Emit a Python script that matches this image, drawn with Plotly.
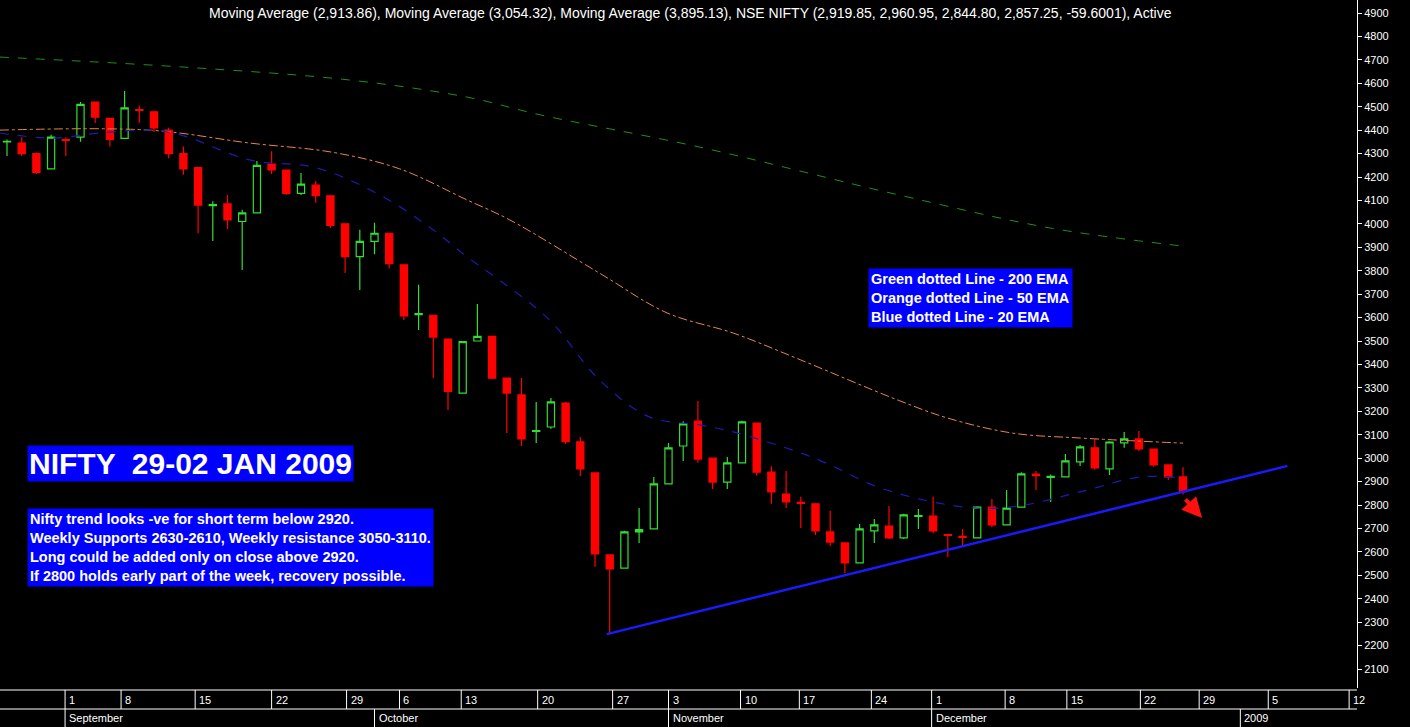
import plotly.graph_objects as go

# OHLC per trading day (index 0 = 26 Aug 2008)
opens = [4350, 4345, 4300, 4235, 4360, 4370, 4520, 4450, 4365, 4488, 4478, 4400, 4300, 4240, 4078, 4085,
         4010, 4047, 4255, 4230, 4130, 4165, 4120, 4000, 3860, 3925, 3960, 3825, 3613, 3610, 3508, 3278,
         3500, 3520, 3342, 3270, 3114, 3133, 3235, 3070, 2937, 2587, 2531, 2685, 2698, 2890, 3052, 3158,
         3000, 2898, 2980, 3150, 2940, 2847, 2811, 2805, 2685, 2638, 2553, 2690, 2710, 2660, 2751, 2753,
         2674, 2666, 2660, 2791, 2715, 2791, 2932, 2918, 2920, 2984, 3044, 2954, 3065, 3082, 3039, 2971,
         2919.85]
highs = [4360, 4370, 4305, 4380, 4370, 4520, 4520, 4450, 4567, 4505, 4478, 4410, 4330, 4240, 4097, 4123,
         4060, 4268, 4310, 4230, 4217, 4183, 4120, 4000, 3975, 4005, 3960, 3825, 3740, 3610, 3508, 3500,
         3658, 3520, 3342, 3342, 3240, 3257, 3240, 3090, 2937, 2587, 2690, 2787, 2920, 3065, 3158, 3244,
         3000, 3005, 3160, 3150, 2965, 2945, 2835, 2805, 2775, 2638, 2719, 2740, 2796, 2763, 2783, 2835,
         2674, 2698, 2795, 2826, 2864, 2940, 2945, 2930, 3018, 3056, 3082, 3072, 3112, 3116, 3039, 2971,
         2960.95]
lows = [4290, 4290, 4213, 4235, 4290, 4350, 4430, 4330, 4365, 4430, 4392, 4280, 4210, 3960, 3927, 3978,
        3803, 4047, 4213, 4123, 4123, 4090, 3982, 3790, 3718, 3870, 3810, 3590, 3547, 3342, 3206, 3278,
        3500, 3338, 3107, 3052, 3065, 3125, 3060, 2924, 2536, 2254, 2531, 2638, 2698, 2890, 2988, 2980,
        2868, 2868, 2980, 2925, 2805, 2787, 2702, 2672, 2625, 2510, 2550, 2638, 2655, 2655, 2698, 2680,
        2578, 2625, 2658, 2705, 2715, 2791, 2864, 2813, 2920, 2967, 2950, 2928, 3044, 3031, 2963, 2907,
        2844.80]
closes = [4352, 4300, 4220, 4370, 4356, 4510, 4455, 4360, 4495, 4484, 4410, 4300, 4235, 4080, 4082, 4017,
          4047, 4250, 4230, 4130, 4170, 4120, 3993, 3860, 3925, 3960, 3830, 3607, 3617, 3517, 3285, 3497,
          3520, 3342, 3278, 3082, 3118, 3240, 3070, 2954, 2591, 2527, 2685, 2695, 2890, 3044, 3146, 2996,
          2898, 2980, 3155, 2940, 2856, 2813, 2807, 2690, 2642, 2553, 2698, 2715, 2660, 2758, 2755, 2689,
          2670, 2662, 2791, 2715, 2787, 2933, 2925, 2922, 2988, 3048, 2958, 3069, 3082, 3039, 2971, 2920,
          2857.25]

# moving averages read at sample positions (trading-day index)
ema200_x = [-0.5, 11.8, 23.3, 31.3, 36.3, 47.1, 60.7, 71, 80]
ema200_y = [4712, 4670, 4614, 4541, 4465, 4328, 4123, 3982, 3905]
ema50_x = [-0.5, 9.7, 16.5, 22.2, 26.7, 31.3, 34.2, 40.3, 44.9, 49.4, 54.0, 60.6, 64.0, 68.4, 73.0, 80]
ema50_y = [4400, 4400, 4345, 4305, 4235, 4102, 4017, 3790, 3620, 3534, 3419, 3248, 3171, 3107, 3086, 3064]
ema20_x = [-0.5, 3.0, 6.3, 9.7, 11.8, 16.5, 21.1, 25.6, 29.0, 31.3, 33.5, 36.9, 40.3, 43.7, 47.1, 49.4,
           54.0, 56.0, 59.4, 65.0, 68.4, 73.0, 77.1, 79.8]
ema20_y = [4388, 4366, 4388, 4400, 4380, 4273, 4238, 4115, 3974, 3859, 3760, 3590, 3334, 3176, 3142, 3112,
           3022, 2971, 2873, 2792, 2792, 2856, 2920, 2916]

trend_x = [40.8, 87.1]
trend_y = [2249, 2967]

yticks = list(range(2100, 5000, 100))
day_pos = [-0.7, 3.95, 7.76, 12.8, 18.0, 23.1, 26.7, 30.9, 36.1, 41.2, 45.0, 49.9, 53.9, 58.8, 62.9,
           67.9, 72.1, 77.1, 81.1, 85.8, 91.3]
day_labels = ["25", "1", "8", "15", "22", "29", "6", "13", "20", "27", "3", "10", "17", "24", "1",
              "8", "15", "22", "29", "5", "12"]
month_pos = [3.95, 25.0, 45.0, 62.9, 83.9]
month_labels = ["September", "October", "November", "December", "2009"]

idx = list(range(len(opens)))

fig = go.Figure()
fig.add_trace(go.Scatter(x=ema200_x, y=ema200_y, mode="lines", line=dict(color="#1f8f1f", width=1, dash="dash"),
                         line_shape="spline", hoverinfo="skip"))
fig.add_trace(go.Scatter(x=ema50_x, y=ema50_y, mode="lines", line=dict(color="#e8864a", width=1, dash="dashdot"),
                         line_shape="spline", hoverinfo="skip"))
fig.add_trace(go.Scatter(x=ema20_x, y=ema20_y, mode="lines", line=dict(color="#1c1cb0", width=1.2, dash="dash"),
                         line_shape="spline", hoverinfo="skip"))
fig.add_trace(go.Candlestick(
    x=idx, open=opens, high=highs, low=lows, close=closes, whiskerwidth=0,
    increasing=dict(line=dict(color="#33dd33", width=1.2), fillcolor="black"),
    decreasing=dict(line=dict(color="#ff0000", width=1.2), fillcolor="#ff0000"),
))
fig.add_trace(go.Scatter(x=trend_x, y=trend_y, mode="lines", line=dict(color="#1a1aff", width=2.5), hoverinfo="skip"))

x0 = -7 / 14.7
x1 = x0 + 1357 / 14.7

box = dict(bgcolor="#0000ff", showarrow=False, xref="paper", yref="paper", align="left")
anns = [
    dict(text="Moving Average (2,913.86), Moving Average (3,054.32), Moving Average (3,895.13), "
              "NSE NIFTY (2,919.85, 2,960.95, 2,844.80, 2,857.25, -59.6001), Active",
         x=690 / 1357, y=1 - 13 / 688, xref="paper", yref="paper", yanchor="middle", showarrow=False,
         font=dict(color="white", size=14, family="Liberation Sans")),
    dict(box, text="<b>NIFTY  29-02 JAN 2009</b>", x=27 / 1357, y=1 - 445 / 688, xanchor="left", yanchor="top",
         font=dict(color="white", size=30, family="Liberation Sans"), borderpad=1),
    dict(box, text="<b>Nifty trend looks -ve for short term below 2920.<br>"
                   "Weekly Supports 2630-2610, Weekly resistance 3050-3110.<br>"
                   "Long could be added only on close above 2920.<br>"
                   "If 2800 holds early part of the week, recovery possible.</b>",
         x=27 / 1357, y=1 - 508 / 688, xanchor="left", yanchor="top",
         font=dict(color="white", size=14.5, family="Liberation Sans"), borderpad=2),
    dict(box, text="<b>Green dotted Line - 200 EMA<br>Orange dotted Line - 50 EMA<br>Blue dotted Line - 20 EMA</b>",
         x=868 / 1357, y=1 - 268 / 688, xanchor="left", yanchor="top",
         font=dict(color="white", size=14.5, family="Liberation Sans"), borderpad=2),
    dict(x=81.3, y=2745, ax=-18, ay=-20, xref="x", yref="y", showarrow=True, arrowhead=2, arrowsize=1,
         arrowwidth=4, arrowcolor="#ff1010", text=""),
]
for p, t in zip(day_pos, day_labels):
    anns.append(dict(text=t, x=p, y=-4 / 688, xref="x", yref="paper", xanchor="left", yanchor="top",
                     showarrow=False, xshift=2, font=dict(color="white", size=11, family="Liberation Sans")))
for p, t in zip(month_pos, month_labels):
    anns.append(dict(text=t, x=p, y=-22 / 688, xref="x", yref="paper", xanchor="left", yanchor="top",
                     showarrow=False, xshift=2, font=dict(color="white", size=11, family="Liberation Sans")))

shapes = [
    dict(type="line", xref="paper", yref="paper", x0=0, x1=1, y0=-2 / 688, y1=-2 / 688, line=dict(color="white", width=1)),
    dict(type="line", xref="paper", yref="paper", x0=0, x1=1, y0=-21 / 688, y1=-21 / 688, line=dict(color="white", width=1)),
]
for p in day_pos:
    shapes.append(dict(type="line", xref="x", yref="paper", x0=p, x1=p, y0=-2 / 688, y1=-21 / 688,
                       line=dict(color="white", width=1)))
for p in month_pos:
    shapes.append(dict(type="line", xref="x", yref="paper", x0=p, x1=p, y0=-21 / 688, y1=-39 / 688,
                       line=dict(color="white", width=1)))

fig.update_layout(
    width=1410, height=727, margin=dict(l=0, r=53, t=0, b=39),
    paper_bgcolor="black", plot_bgcolor="black", showlegend=False,
    xaxis=dict(range=[x0, x1], showgrid=False, zeroline=False, showticklabels=False,
               rangeslider=dict(visible=False), fixedrange=True),
    yaxis=dict(range=[2019, 4955.5], side="right", showgrid=False, zeroline=False, tickvals=yticks,
               ticks="outside", ticklen=4, tickcolor="white", showline=True, linecolor="white",
               tickfont=dict(color="white", size=11, family="Liberation Sans")),
    annotations=anns, shapes=shapes,
)

fig.write_html("out.html", config={"displayModeBar": False},
               post_script="document.body.style.margin='0';document.body.style.overflow='hidden';"
                           "document.body.style.background='black';")
